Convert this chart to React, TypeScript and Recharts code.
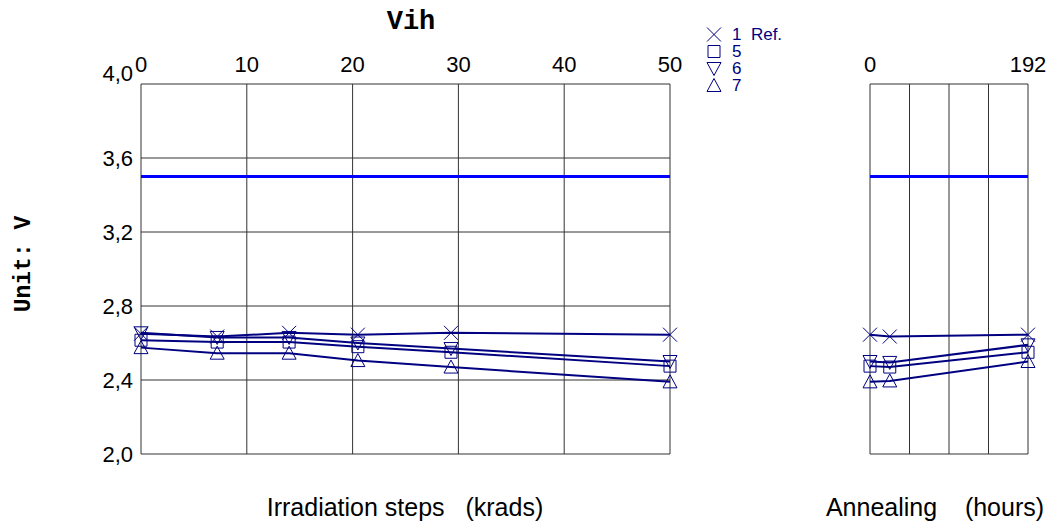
import React from "react";
import { LineChart, Line, XAxis, YAxis, CartesianGrid, ReferenceLine } from "recharts";

// irradiation panel (krads)
const irradSteps = [0, 7.2, 14, 20.5, 29.3, 50];
const irradTicks = [0, 10, 20, 30, 40, 50];
// annealing panel (hours)
const annealHours = [0, 24, 192];
const annealTicks = [0, 48, 96, 144, 192];
const annealShown = [0, 192];

const voltTicks = [2.0, 2.4, 2.8, 3.2, 3.6, 4.0];
const vihLimit = 3.5;

const dev1Irr = [2.65, 2.635, 2.655, 2.645, 2.655, 2.645];
const dev5Irr = [2.615, 2.605, 2.605, 2.58, 2.55, 2.475];
const dev6Irr = [2.655, 2.63, 2.63, 2.6, 2.57, 2.5];
const dev7Irr = [2.575, 2.545, 2.545, 2.505, 2.47, 2.39];

const dev1Ann = [2.645, 2.635, 2.645];
const dev5Ann = [2.475, 2.47, 2.55];
const dev6Ann = [2.5, 2.495, 2.59];
const dev7Ann = [2.39, 2.395, 2.5];

const seriesNames = ["1  Ref.", "5", "6", "7"];
const seriesKeys = ["d1", "d5", "d6", "d7"];
const seriesShapes = ["x", "square", "down", "up"];

const NAVY = "#000080";
const FONT = "'Liberation Sans', Arial, sans-serif";
const MONO = "'Liberation Mono', 'Courier New', monospace";

const irrData = irradSteps.map((x, i) => ({
  x,
  d1: dev1Irr[i],
  d5: dev5Irr[i],
  d6: dev6Irr[i],
  d7: dev7Irr[i],
}));
const annData = annealHours.map((x, i) => ({
  x,
  d1: dev1Ann[i],
  d5: dev5Ann[i],
  d6: dev6Ann[i],
  d7: dev7Ann[i],
}));

function markerPath(shape: string, cx: number, cy: number) {
  switch (shape) {
    case "x":
      return `M${cx - 7},${cy - 7}L${cx + 7},${cy + 7}M${cx - 7},${cy + 7}L${cx + 7},${cy - 7}`;
    case "square":
      return `M${cx - 6},${cy - 6}H${cx + 6}V${cy + 6}H${cx - 6}Z`;
    case "down":
      return `M${cx - 7},${cy - 6}H${cx + 7}L${cx},${cy + 7}Z`;
    default:
      return `M${cx - 7},${cy + 6}H${cx + 7}L${cx},${cy - 7}Z`;
  }
}

const makeDot = (shape: string) => (p: any) => {
  if (p.cx == null || p.cy == null) return <g key={`${shape}-${p.index}`} />;
  return (
    <path
      key={`${shape}-${p.index}`}
      d={markerPath(shape, p.cx, p.cy)}
      stroke={NAVY}
      strokeWidth={1}
      fill="none"
    />
  );
};

const fmtVolt = (v: number) => v.toFixed(1).replace(".", ",");

const VoltTick = (p: any) => {
  const v = p.payload.value;
  return (
    <text
      x={p.x}
      y={p.y}
      dy={v === 4 ? -3 : 8}
      textAnchor="end"
      fontSize={22}
      fontFamily={FONT}
      fill="#000"
    >
      {fmtVolt(v)}
    </text>
  );
};

const TopTick = (shown: number[] | null) => (p: any) => {
  const v = p.payload.value;
  if (shown && !shown.includes(v)) return <g />;
  return (
    <text x={p.x} y={p.y} dy={-4} textAnchor="middle" fontSize={22} fontFamily={FONT} fill="#000">
      {v}
    </text>
  );
};

function Series() {
  return seriesKeys.map((k, i) => (
    <Line
      key={k}
      dataKey={k}
      type="linear"
      stroke={NAVY}
      strokeWidth={2}
      dot={makeDot(seriesShapes[i])}
      activeDot={false}
      isAnimationActive={false}
    />
  ));
}

export default function App() {
  const W = 1062;
  const H = 524;
  return (
    <div style={{ position: "absolute", left: 0, top: 0, width: W, height: H, background: "#fff", fontFamily: FONT }}>
      <div style={{ position: "absolute", left: 0, top: 0 }}>
        <LineChart width={W} height={H} data={irrData} margin={{ top: 54, right: 392, bottom: 70, left: 81 }}>
          <CartesianGrid stroke="#333" strokeWidth={1} />
          <XAxis
            dataKey="x"
            type="number"
            orientation="top"
            domain={[0, 50]}
            ticks={irradTicks}
            height={30}
            tickSize={0}
            tickMargin={8}
            axisLine={false}
            tick={TopTick(null)}
          />
          <YAxis
            type="number"
            domain={[2, 4]}
            ticks={voltTicks}
            width={60}
            tickSize={0}
            tickMargin={8}
            axisLine={false}
            tick={VoltTick}
          />
          <ReferenceLine y={vihLimit} stroke="#0000ff" strokeWidth={3} />
          {Series()}
        </LineChart>
      </div>
      <div style={{ position: "absolute", left: 0, top: 0 }}>
        <LineChart width={W} height={H} data={annData} margin={{ top: 54, right: 34, bottom: 70, left: 870 }}>
          <CartesianGrid stroke="#333" strokeWidth={1} />
          <XAxis
            dataKey="x"
            type="number"
            orientation="top"
            domain={[0, 192]}
            ticks={annealTicks}
            height={30}
            tickSize={0}
            tickMargin={8}
            axisLine={false}
            tick={TopTick(annealShown)}
          />
          <YAxis type="number" domain={[2, 4]} ticks={voltTicks} width={0} tick={false} tickLine={false} axisLine={false} />
          <ReferenceLine y={vihLimit} stroke="#0000ff" strokeWidth={3} />
          {Series()}
        </LineChart>
      </div>

      <div
        style={{
          position: "absolute",
          left: 361,
          top: 6,
          width: 100,
          textAlign: "center",
          fontFamily: MONO,
          fontWeight: "bold",
          fontSize: 27,
          lineHeight: "32px",
        }}
      >
        Vih
      </div>
      <div
        style={{
          position: "absolute",
          left: 24,
          top: 264,
          transform: "translate(-50%, -50%) rotate(-90deg)",
          fontFamily: MONO,
          fontWeight: "bold",
          fontSize: 23,
          whiteSpace: "pre",
        }}
      >
        Unit: V
      </div>
      <div
        style={{ position: "absolute", left: 205, width: 400, top: 493, textAlign: "center", fontSize: 25, whiteSpace: "pre" }}
      >
        {"Irradiation steps   (krads)"}
      </div>
      <div
        style={{ position: "absolute", left: 815, width: 240, top: 493, textAlign: "center", fontSize: 25, whiteSpace: "pre" }}
      >
        {"Annealing    (hours)"}
      </div>

      <div style={{ position: "absolute", left: 705, top: 26 }}>
        {seriesNames.map((n, i) => (
          <div key={n} style={{ display: "flex", alignItems: "center", height: 17 }}>
            <svg width={18} height={17} style={{ marginRight: 9 }}>
              <path d={markerPath(seriesShapes[i], 9, 8.5)} stroke={NAVY} fill="none" strokeWidth={1} />
            </svg>
            <span style={{ color: NAVY, fontSize: 17, whiteSpace: "pre" }}>{n}</span>
          </div>
        ))}
      </div>
    </div>
  );
}
